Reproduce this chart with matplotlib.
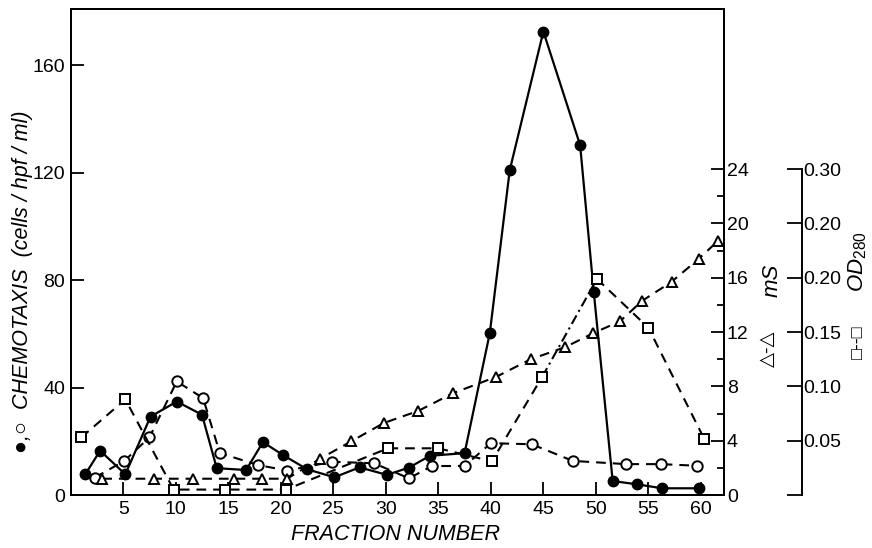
import matplotlib
matplotlib.use("Agg")
import matplotlib.pyplot as plt
from matplotlib.ticker import FixedLocator

plt.rcParams['font.family'] = ['Liberation Sans', 'DejaVu Sans']
plt.rcParams['mathtext.fontset'] = 'custom'
plt.rcParams['mathtext.it'] = 'Liberation Sans:italic'
plt.rcParams['mathtext.rm'] = 'Liberation Sans'
plt.rcParams['lines.scale_dashes'] = False

# chemotaxis, filled circles (solid line)
fr_filled = [1.4, 2.8, 5.2, 7.6, 10.1, 12.5, 13.9, 16.7, 18.3, 20.2, 22.5, 25.1, 27.5,
             30.1, 32.2, 34.2, 37.5, 39.9, 41.8, 45.0, 48.5, 49.8, 51.6, 53.9, 56.3, 59.8]
chem_filled = [7.8, 16.5, 7.7, 29.2, 34.8, 29.9, 10.0, 9.3, 19.7, 14.9, 9.6, 6.6, 10.3,
               7.5, 10.2, 14.6, 15.6, 60.3, 121.0, 172.6, 130.3, 75.5, 5.2, 4.0, 2.5, 2.5]

# chemotaxis, open circles (dashed line)
fr_open = [2.3, 5.1, 7.5, 10.1, 12.6, 14.2, 17.8, 20.6, 24.9, 28.9, 32.2, 34.4, 37.5,
           40.0, 43.9, 47.8, 52.9, 56.2, 59.6]
chem_open = [6.5, 12.7, 21.5, 42.3, 36.1, 15.6, 11.2, 9.1, 12.4, 11.8, 6.2, 10.8, 10.8,
             19.3, 18.9, 12.7, 11.5, 11.5, 10.9]

# conductivity mS, triangles
fr_ms = [3.0, 7.9, 11.6, 15.5, 18.2, 20.6, 23.7, 26.7, 29.8, 33.1, 36.4, 40.5, 43.8,
         47.1, 49.7, 52.3, 54.4, 57.2, 59.8, 61.6]
ms = [1.2, 1.2, 1.2, 1.2, 1.2, 1.2, 2.65, 3.95, 5.3, 6.2, 7.5, 8.7, 10.0,
      10.9, 11.9, 12.8, 14.3, 15.7, 17.4, 18.7]

# OD280, squares
fr_od = [1.0, 5.2, 9.8, 14.7, 20.5, 30.2, 35.0, 40.1, 44.9, 50.1, 55.0, 60.3]
od = [0.053, 0.088, 0.005, 0.005, 0.005, 0.043, 0.043, 0.031, 0.109, 0.199, 0.154, 0.052]

x_ticks = list(range(5, 61, 5))
chem_ticks = [0, 40, 80, 120, 160]
ms_ticks = [0, 4, 8, 12, 16, 20, 24]
ms_minor = [2, 6, 10, 14, 18, 22]
od_ticks = [0, 0.05, 0.10, 0.15, 0.20, 0.25, 0.30]
od_labels = ['', '0.05', '0.10', '0.15', '0.20', '0.20', '0.30']

fig = plt.figure(figsize=(8.72, 5.48), dpi=100)
ax = fig.add_axes([0.0811, 0.0967, 0.7492, 0.8869])
ax.set_xlim(0, 62.2)
ax.set_ylim(0, 181)
ax.set_xticks(x_ticks)
ax.set_yticks(chem_ticks)
ax.tick_params(direction='in', length=9.5, width=1.3, labelsize=14, pad=4)
for s in ax.spines.values():
    s.set_linewidth(1.4)

dash = (7, 5)
mk = 7.5
ax.plot(fr_open, chem_open, color='black', lw=1.5, dashes=dash, marker='o', ms=mk,
        mfc='white', mec='black', mew=1.4, zorder=3)
ax.plot(fr_filled, chem_filled, color='black', lw=1.6, marker='o', ms=mk,
        mfc='black', mec='black', zorder=4)

ax2 = ax.twinx()
ax2.set_ylim(0, 35.8)
ax2.yaxis.set_major_locator(FixedLocator(ms_ticks))
ax2.yaxis.set_minor_locator(FixedLocator(ms_minor))
ax2.tick_params(direction='in', length=9.5, width=1.3, labelsize=14, pad=2)
ax2.tick_params(which='minor', direction='in', length=5, width=1.3)
for s in ax2.spines.values():
    s.set_linewidth(1.4)
ax2.plot(fr_ms, ms, color='black', lw=1.5, dashes=dash, marker='^', ms=mk,
         mfc='white', mec='black', mew=1.4, zorder=3)

ax3 = ax.twinx()
ax3.set_ylim(0, 35.8 / 80)
ax3.spines['right'].set_position(('axes', 1.119))
ax3.spines['right'].set_bounds(0, 0.30)
ax3.spines['right'].set_linewidth(1.4)
for s in ['left', 'top', 'bottom']:
    ax3.spines[s].set_visible(False)
ax3.set_yticks(od_ticks)
ax3.set_yticklabels(od_labels)
ax3.tick_params(direction='in', length=10.5, width=1.3, labelsize=14, pad=1)
ax3.plot(fr_od[:9], od[:9], color='black', lw=1.5, dashes=dash, zorder=3)
ax3.plot(fr_od[8:10], od[8:10], color='black', lw=1.5, dashes=(7, 3, 1.5, 3), zorder=3)
ax3.plot(fr_od[9:], od[9:], color='black', lw=1.5, dashes=dash, zorder=3)
ax3.plot(fr_od, od, ls='none', marker='s', ms=7, mfc='white', mec='black', mew=1.4, zorder=4)

fig.text(23 / 872, 1 - 282 / 548, '●,○  CHEMOTAXIS  (cells / hpf / ml)', rotation=90,
         ha='center', va='center', fontsize=15.5, style='italic')
fig.text(395 / 872, 1 - 535 / 548, 'FRACTION NUMBER', ha='center', va='center',
         fontsize=15.5, style='italic')
fig.text(772 / 872, 1 - 280 / 548, 'mS', rotation=90, ha='center', va='center',
         fontsize=16, style='italic')
fig.text(768 / 872, 1 - 349 / 548, '△-△', rotation=90, ha='center', va='center',
         fontsize=14)
fig.text(858 / 872, 1 - 262 / 548, r'$\mathit{OD}_{\mathit{280}}$', rotation=90,
         ha='center', va='center', fontsize=16)
fig.text(858 / 872, 1 - 342 / 548, '□--□', rotation=90, ha='center', va='center',
         fontsize=13)

fig.savefig('out.png', dpi=100)
